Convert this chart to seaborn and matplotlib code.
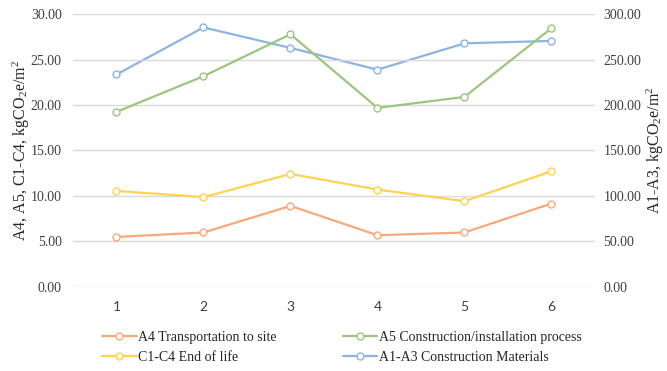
import matplotlib
matplotlib.use("Agg")
import matplotlib.pyplot as plt
import seaborn as sns
import pandas as pd

# Building cases
cases = [1, 2, 3, 4, 5, 6]

# Life-cycle stage emissions, kgCO2e/m2
a4_transport = [5.48, 5.97, 8.90, 5.67, 5.97, 9.16]
c1_c4_end_of_life = [10.55, 9.86, 12.42, 10.70, 9.42, 12.72]
a5_construction = [19.25, 23.18, 27.80, 19.69, 20.90, 28.47]
a1_a3_materials = [233.7, 285.5, 263.0, 239.0, 268.0, 270.7]

left_ticks = [0, 5, 10, 15, 20, 25, 30]
right_ticks = [0, 50, 100, 150, 200, 250, 300]

names = {
    "a4": "A4 Transportation to site",
    "a5": "A5 Construction/installation process",
    "c": "C1-C4 End of life",
    "a1": "A1-A3 Construction Materials",
}
colors = {"a4": "#F8A97B", "a5": "#9CC67F", "c": "#FFD350", "a1": "#8DB4E2"}

SERIF = ["Liberation Serif", "DejaVu Serif"]

sns.set_theme(style="white")
plt.rcParams["font.family"] = SERIF
plt.rcParams["mathtext.fontset"] = "custom"
plt.rcParams["mathtext.rm"] = "Liberation Serif"
plt.rcParams["mathtext.it"] = "Liberation Serif"

fig = plt.figure(figsize=(6.67, 3.71), dpi=100)
ax = fig.add_axes([0.1094, 0.2272, 0.7826, 0.7343])
ax2 = ax.twinx()

def draw(axis, values, key):
    df = pd.DataFrame({"case": cases, "value": values})
    sns.lineplot(data=df, x="case", y="value", ax=axis, color=colors[key],
                 linewidth=1.6, marker="o", markersize=5,
                 markerfacecolor="white", markeredgecolor=colors[key],
                 markeredgewidth=1.0, label=names[key], legend=False)

draw(ax, a4_transport, "a4")
draw(ax, c1_c4_end_of_life, "c")
draw(ax, a5_construction, "a5")
draw(ax2, a1_a3_materials, "a1")

ax.set_xlim(0.5, 6.5)
ax.set_ylim(0, 30)
ax2.set_ylim(0, 300)
ax.set_xticks(cases)
ax.set_xticklabels([str(c) for c in cases], family=["Lato"], fontsize=10, color="#404040")
ax.set_yticks(left_ticks)
ax.set_yticklabels([f"{v:.2f}" for v in left_ticks], family=SERIF, fontsize=10, color="#404040")
ax2.set_yticks(right_ticks)
ax2.set_yticklabels([f"{v:.2f}" for v in right_ticks], family=SERIF, fontsize=10, color="#404040")

ax.grid(axis="y", color="#D9D9D9", linewidth=1.0)
ax.set_axisbelow(True)
ax.set_zorder(ax2.get_zorder() + 1)
ax.patch.set_visible(False)
for a in (ax, ax2):
    for s in a.spines.values():
        s.set_visible(False)
    a.tick_params(length=0)
    a.set_xlabel("")
ax.tick_params(axis="y", pad=8)
ax2.tick_params(axis="y", pad=6)
ax.tick_params(axis="x", pad=10)

ax.set_ylabel(r"A4, A5, C1-C4, kgCO$_2$e/m$^2$", family=SERIF, fontsize=11.5, color="#262626")
ax2.set_ylabel(r"A1-A3, kgCO$_2$e/m$^2$", family=SERIF, fontsize=11.5, color="#262626", rotation=90)
ax.yaxis.set_label_coords(-0.078, 0.5)
ax2.yaxis.set_label_coords(1.096, 0.5)

h1, l1 = ax.get_legend_handles_labels()
h2, l2 = ax2.get_legend_handles_labels()
lookup = dict(zip(l1 + l2, h1 + h2))
order = [names["a4"], names["c"], names["a5"], names["a1"]]
fig.legend([lookup[n] for n in order], order, ncol=2, loc="upper left",
           bbox_to_anchor=(0.153, 0.107), frameon=False,
           prop={"family": SERIF, "size": 10},
           handlelength=2.5, handletextpad=0.1, columnspacing=4.75,
           labelspacing=0.45, borderaxespad=0, borderpad=0,
           labelcolor="#262626")

fig.savefig("out.png", dpi=100)
